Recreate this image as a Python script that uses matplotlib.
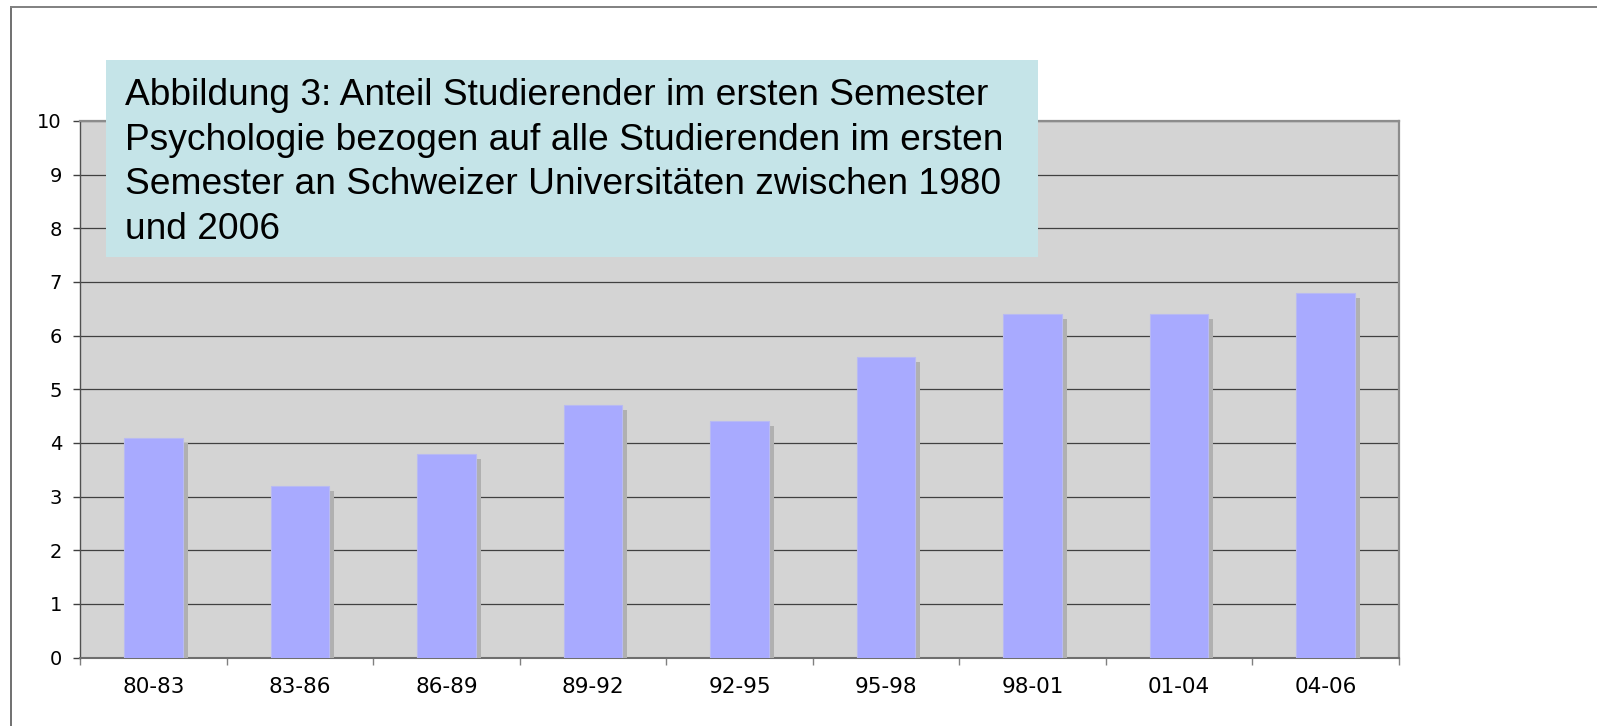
import matplotlib
matplotlib.use("Agg")
import matplotlib.pyplot as plt
import matplotlib.patheffects as pe
from matplotlib.patches import Rectangle
from matplotlib.lines import Line2D
import numpy as np

categories = ["80-83", "83-86", "86-89", "89-92", "92-95", "95-98", "98-01", "01-04", "04-06"]
values = [4.1, 3.2, 3.8, 4.7, 4.4, 5.6, 6.4, 6.4, 6.8]
y_ticks = list(range(0, 11))
title_lines = ["Abbildung 3: Anteil Studierender im ersten Semester",
               "Psychologie bezogen auf alle Studierenden im ersten",
               "Semester an Schweizer Universitäten zwischen 1980",
               "und 2006"]

W, H = 1597, 726
fig = plt.figure(figsize=(W / 100, H / 100), dpi=100)
fig.patch.set_facecolor('white')

ax = fig.add_axes([80 / W, 1 - 657.5 / H, 1319 / W, 536.5 / H])
ax.set_facecolor('#D4D4D4')

x = np.arange(len(categories))
bars = ax.bar(x, values, width=0.4, color='#A8AAFF', edgecolor='#B8BAF2',
              linewidth=0.8, zorder=3)
for b in bars:
    b.set_path_effects([pe.SimplePatchShadow(offset=(3.6, -3.6), shadow_rgbFace='#B0B0B0', alpha=1.0),
                        pe.Normal()])

ax.set_xlim(-0.5, len(categories) - 0.5)
ax.set_ylim(0, 10)
ax.set_yticks(y_ticks)
ax.set_yticklabels([str(t) for t in y_ticks], fontsize=14, family='DejaVu Sans')
ax.yaxis.grid(True, color='#404040', linewidth=0.9)
ax.set_axisbelow(True)

ax.set_xticks(np.arange(len(categories) + 1) - 0.5)
ax.set_xticklabels([])
ax.set_xticks(x, minor=True)
ax.set_xticklabels(categories, minor=True, fontsize=15.5, family='DejaVu Sans')
ax.tick_params(axis='x', which='major', length=5, color='#808080', width=1)
ax.tick_params(axis='x', which='minor', length=0, pad=14)
ax.tick_params(axis='y', length=5, color='#404040', width=1, pad=8)

for s in ['top', 'right']:
    ax.spines[s].set_color('#8C8C8C')
    ax.spines[s].set_linewidth(1.6)
ax.spines['left'].set_color('#505050')
ax.spines['left'].set_linewidth(1.0)
ax.spines['bottom'].set_color('#6E6E6E')
ax.spines['bottom'].set_linewidth(1.5)

# figure frame (left and top)
fig.add_artist(Line2D([10.5 / W, 10.5 / W], [0, 1 - 7 / H], transform=fig.transFigure,
                      color='#707070', linewidth=1.4))
fig.add_artist(Line2D([10.5 / W, 1], [1 - 7 / H, 1 - 7 / H], transform=fig.transFigure,
                      color='#808080', linewidth=1.4))

# caption box
fig.add_artist(Rectangle((106 / W, 1 - 257.5 / H), 932 / W, 197.5 / H, transform=fig.transFigure,
                         facecolor='#C5E4E8', edgecolor='none', zorder=5))
first_baseline = 105
line_step = 44.7
for i, line in enumerate(title_lines):
    fig.text(125 / W, 1 - (first_baseline + i * line_step) / H, line, fontsize=26.7,
             family='Liberation Sans', va='baseline', ha='left', color='black', zorder=6)

fig.savefig('out.png', dpi=100)
